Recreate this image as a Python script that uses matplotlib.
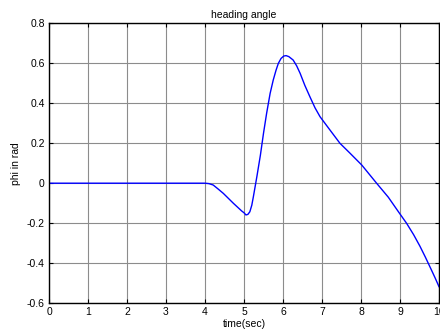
import matplotlib
matplotlib.use("Agg")
import matplotlib.pyplot as plt

# heading angle samples
time_sec = [0.0, 1.0, 2.0, 3.0, 4.0, 4.1, 4.21, 4.33, 4.47, 4.6, 4.73, 4.94,
            5.0, 5.05, 5.1, 5.15, 5.2, 5.24, 5.33, 5.42, 5.5, 5.58, 5.67,
            5.75, 5.82, 5.88, 5.95, 6.02, 6.08, 6.15, 6.26, 6.35, 6.44, 6.56,
            6.69, 6.82, 6.95, 7.21, 7.46, 7.72, 8.02, 8.4, 8.7, 8.96, 9.17,
            9.35, 9.51, 9.65, 9.8, 9.9, 10.0]
phi_rad = [0.0, 0.0, 0.0, 0.0, 0.0, -0.002, -0.009, -0.028, -0.051, -0.076,
           -0.101, -0.139, -0.148, -0.159, -0.156, -0.143, -0.11, -0.068,
           0.033, 0.14, 0.25, 0.35, 0.45, 0.517, 0.565, 0.60, 0.625, 0.637,
           0.639, 0.634, 0.617, 0.588, 0.55, 0.49, 0.433, 0.378, 0.333, 0.265,
           0.2, 0.15, 0.091, 0.0, -0.07, -0.143, -0.201, -0.258, -0.315,
           -0.37, -0.432, -0.474, -0.518]

x_ticks = list(range(0, 11))
y_ticks = [-0.6, -0.4, -0.2, 0, 0.2, 0.4, 0.6, 0.8]
y_tick_labels = ["-0.6", "-0.4", "-0.2", "0", "0.2", "0.4", "0.6", "0.8"]

plt.rcParams["font.family"] = ["Liberation Sans", "DejaVu Sans"]

fig = plt.figure(figsize=(4.4, 3.35), dpi=100)
ax = fig.add_axes([0.1114, 0.0955, 0.8863, 0.8344])

ax.plot(time_sec, phi_rad, color="#0000ff", lw=1.0)

ax.set_xlim(0, 10)
ax.set_ylim(-0.6, 0.8)
ax.set_xticks(x_ticks)
ax.set_yticks(y_ticks)
ax.set_yticklabels(y_tick_labels)
ax.grid(True, color="0.55", lw=0.8, ls="-")
ax.tick_params(direction="in", top=True, right=True, length=3, width=0.8,
               labelsize=7.5, pad=3)
for sp in ax.spines.values():
    sp.set_linewidth(1.0)

ax.set_title("heading angle", fontsize=7.5, pad=4)
ax.set_xlabel("time(sec)", fontsize=7.5, labelpad=1)
ax.set_ylabel("phi in rad", fontsize=7.5, labelpad=4)

fig.savefig("out.png", dpi=100)
